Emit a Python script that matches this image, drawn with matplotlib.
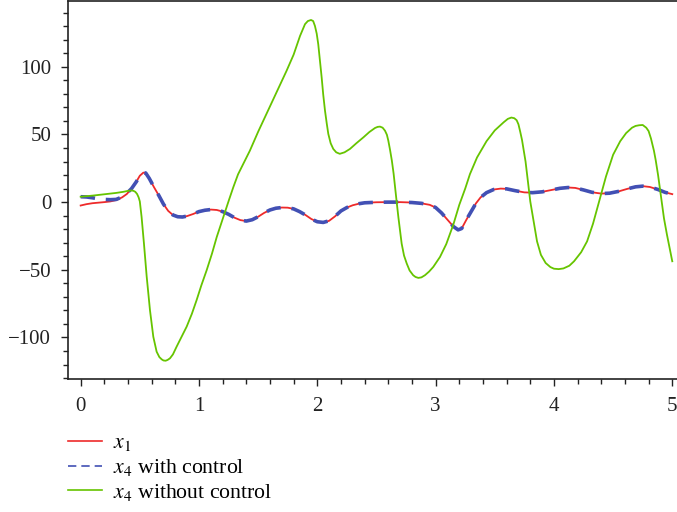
import numpy as np
import matplotlib.pyplot as plt
from matplotlib.lines import Line2D
from matplotlib.ticker import MultipleLocator

plt.rcParams['font.family'] = ['Liberation Serif', 'DejaVu Serif']
plt.rcParams['mathtext.fontset'] = 'stix'

# x1 (and x4 with control, which follows x1 after the transient)
t_x1 = [0.0, 0.05, 0.1, 0.15, 0.2, 0.25, 0.3, 0.35, 0.39, 0.43, 0.47, 0.50,
        0.53, 0.55, 0.58, 0.62, 0.66, 0.70, 0.74, 0.78, 0.82, 0.86, 0.90, 0.95,
        1.00, 1.05, 1.10, 1.15, 1.20, 1.25, 1.30, 1.35, 1.40, 1.45, 1.50, 1.55,
        1.60, 1.65, 1.70, 1.75, 1.80, 1.85, 1.90, 1.95, 2.00, 2.05, 2.10, 2.15,
        2.20, 2.25, 2.30, 2.35, 2.40, 2.50, 2.60, 2.70, 2.80, 2.88, 2.95, 3.00,
        3.05, 3.10, 3.15, 3.19, 3.22, 3.26, 3.30, 3.34, 3.38, 3.43, 3.49, 3.55,
        3.60, 3.67, 3.75, 3.82, 3.90, 3.97, 4.05, 4.12, 4.18, 4.25, 4.32, 4.40,
        4.47, 4.55, 4.62, 4.69, 4.75, 4.81, 4.88, 4.94, 5.00]
x1 = [-2.5, -1.5, -0.8, -0.4, 0.0, 0.5, 1.5, 3.5, 6.0, 10.0, 15.0, 19.5,
      21.8, 21.5, 17.5, 11.0, 5.0, -1.5, -6.5, -9.5, -10.8, -11.0, -10.3, -8.8,
      -7.0, -6.0, -5.5, -5.8, -7.0, -9.0, -11.5, -13.3, -14.0, -13.0, -10.8, -8.0,
      -5.8, -4.5, -4.0, -4.1, -5.0, -7.0, -9.5, -12.5, -14.5, -15.0, -13.8, -10.5,
      -6.5, -4.0, -2.3, -1.2, -0.5, -0.1, 0.0, 0.0, -0.3, -0.9, -2.0, -4.0,
      -8.0, -13.0, -18.0, -20.5, -19.5, -13.0, -7.0, -1.0, 3.5, 7.0, 9.3, 10.0,
      9.8, 8.5, 7.2, 7.0, 7.6, 8.8, 10.2, 10.8, 10.5, 9.0, 7.3, 6.3,
      6.6, 8.0, 9.8, 11.3, 11.8, 11.2, 9.3, 7.2, 5.9]

x4_ctrl = [4.0, 3.8, 3.2, 2.4, 2.0, 1.8, 2.0, 3.8, 6.5, 10.0, 15.0, 19.5,
           21.8, 21.5, 17.5, 11.0, 5.0, -1.5, -6.5, -9.5, -10.8, -11.0, -10.3, -8.8,
           -7.0, -6.0, -5.5, -5.8, -7.0, -9.0, -11.5, -13.3, -14.0, -13.0, -10.8, -8.0,
           -5.8, -4.5, -4.0, -4.1, -5.0, -7.0, -9.5, -12.5, -14.5, -15.0, -13.8, -10.5,
           -6.5, -4.0, -2.3, -1.2, -0.5, -0.1, 0.0, 0.0, -0.3, -0.9, -2.0, -4.0,
           -8.0, -13.0, -18.0, -20.5, -19.5, -13.0, -7.0, -1.0, 3.5, 7.0, 9.3, 10.0,
           9.8, 8.5, 7.2, 7.0, 7.6, 8.8, 10.2, 10.8, 10.5, 9.0, 7.3, 6.3,
           6.6, 8.0, 9.8, 11.3, 11.8, 11.2, 9.3, 7.2, 5.9]

# x4 without control
t_free = [0.0, 0.1, 0.2, 0.3, 0.36, 0.40, 0.425, 0.445, 0.462, 0.477, 0.49, 0.50, 0.515,
          0.535, 0.558, 0.586, 0.614, 0.642, 0.665, 0.685, 0.70, 0.718, 0.735, 0.755,
          0.78, 0.811, 0.85, 0.896, 0.94, 0.98, 1.02, 1.065, 1.11, 1.15, 1.185,
          1.22, 1.255, 1.29, 1.33, 1.375, 1.43, 1.50, 1.58, 1.66, 1.74, 1.80,
          1.854, 1.896, 1.92, 1.947, 1.965, 1.98, 1.995, 2.008, 2.022, 2.037, 2.05,
          2.065, 2.08, 2.093, 2.113, 2.135, 2.16, 2.19, 2.23, 2.276, 2.33, 2.39,
          2.44, 2.488, 2.51, 2.53, 2.552, 2.572, 2.588, 2.60, 2.615, 2.63, 2.645,
          2.657, 2.671, 2.685, 2.70, 2.713, 2.733, 2.756, 2.78, 2.81, 2.83, 2.854,
          2.88, 2.91, 2.945, 2.98, 3.037, 3.09, 3.15, 3.20, 3.25, 3.29, 3.35, 3.43,
          3.50, 3.575, 3.61, 3.64, 3.665, 3.685, 3.70, 3.715, 3.73, 3.76, 3.78,
          3.80, 3.83, 3.857, 3.89, 3.93, 3.97, 4.00, 4.04, 4.08, 4.13, 4.17, 4.23,
          4.28, 4.33, 4.39, 4.44, 4.50, 4.56, 4.61, 4.66, 4.69, 4.72, 4.75, 4.78,
          4.80, 4.82, 4.845, 4.86, 4.88, 4.91, 4.93, 4.955, 4.98, 5.00]
x4_free = [4.0, 4.8, 5.8, 6.8, 7.6, 8.3, 8.6, 8.4, 7.6, 6.0, 3.5, 0.5, -11.0,
           -30.7, -55.0, -80.0, -99.5, -110.5, -114.5, -116.2, -117.0, -117.2, -116.6, -115.4,
           -112.5, -106.8, -100.0, -92.0, -82.5, -72.4, -61.5, -50.3, -38.0, -25.8, -16.5,
           -7.4, 2.0, 11.0, 20.5, 28.3, 38.0, 52.0, 67.0, 82.0, 97.0, 109.0,
           122.8, 131.5, 133.8, 134.6, 133.8, 130.2, 124.5, 116.7, 105.0, 92.0, 79.5,
           67.6, 58.0, 50.4, 43.5, 39.3, 36.8, 35.7, 36.8, 39.3, 43.5, 47.9,
           51.8, 54.8, 55.6, 55.8, 55.0, 52.8, 49.8, 45.5, 38.5, 30.7, 21.0,
           11.0, 0.0, -11.0, -21.5, -30.7, -39.5, -45.4, -50.5, -54.0, -55.3, -56.0,
           -55.6, -54.0, -51.3, -47.9, -40.5, -31.0, -16.5, -2.0, 10.0, 20.7, 33.0, 45.0,
           53.0, 59.0, 61.5, 62.5, 62.0, 60.5, 57.5, 52.0, 46.0, 30.0, 15.0,
           0.5, -15.0, -29.0, -39.0, -45.0, -48.0, -49.2, -49.5, -49.0, -47.0, -43.7, -37.0,
           -29.0, -16.0, 3.0, 19.0, 35.0, 45.0, 51.0, 55.0, 56.3, 56.8, 57.0, 55.0,
           52.5, 47.0, 38.0, 31.0, 20.0, 0.7, -12.0, -24.0, -35.0, -43.7]

labels = [r'$x_1$', r'$x_4$ with control', r'$x_4$ without control']
red, blue, green = '#ee2a2a', '#4250b4', '#66c400'

fig = plt.figure(figsize=(6.77, 5.12), dpi=100)
ax = fig.add_axes([68 / 677, 1 - 379 / 512, 1 - 68 / 677, 379 / 512 - 0.002])

ax.plot(t_x1, x1, color=red, lw=1.3)
ax.plot(t_x1, x4_ctrl, color=blue, lw=2.6, dashes=(4, 3))
ax.plot(t_free, x4_free, color=green, lw=1.3)

ax.set_xlim(-0.107, 5.04)
ax.set_ylim(-130.7, 148.6)
ax.xaxis.set_major_locator(MultipleLocator(1))
ax.xaxis.set_minor_locator(MultipleLocator(0.2))
ax.yaxis.set_major_locator(MultipleLocator(50))
ax.yaxis.set_minor_locator(MultipleLocator(10))
ax.tick_params(which='both', direction='out', width=1, colors='#222222',
               labelsize=15, labelcolor='#222222')
ax.tick_params(which='major', length=5)
ax.tick_params(which='minor', length=3.5)
ax.tick_params(axis='y', pad=7)
ax.tick_params(axis='x', pad=8)
ax.spines['right'].set_visible(False)
for s in ('left', 'bottom', 'top'):
    ax.spines[s].set_linewidth(1.2)
    ax.spines[s].set_color('#222222')

handles = [Line2D([], [], color=red, lw=1.2),
           Line2D([], [], color=blue, lw=1.2, dashes=(5, 3)),
           Line2D([], [], color=green, lw=1.2)]
fig.legend(handles, labels, loc='upper left', bbox_to_anchor=(68 / 677, 1 - 433 / 512),
           frameon=False, fontsize=15.7, handlelength=1.55, handletextpad=0.5,
           labelspacing=0.18, borderaxespad=0, borderpad=0)

fig.savefig('out.png', dpi=100, facecolor='white')
